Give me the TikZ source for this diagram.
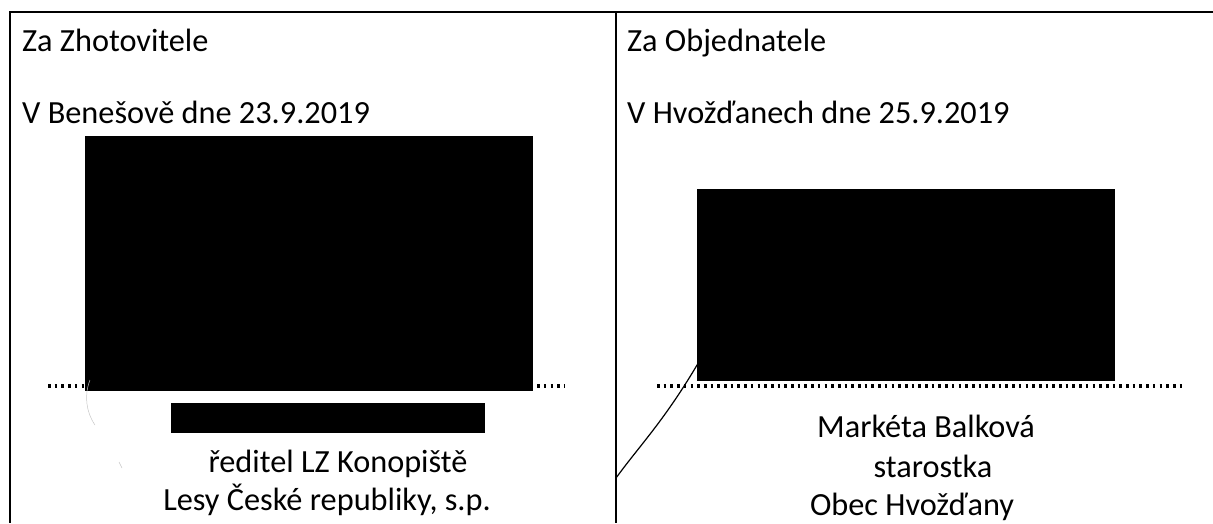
\documentclass[tikz,border=0pt]{standalone}
\usepackage{fontspec}
\setmainfont{Carlito}
\begin{document}
\begin{tikzpicture}[x=1pt,y=-1pt,
  txt/.style={inner sep=0pt,font=\fontsize{32.3}{38}\selectfont},
  rule/.style={line width=1.3pt,black},
  redact/.style={fill=black,draw=none},
  dots/.style={line width=3.2pt,dash pattern=on 2.6pt off 4.1pt,black},
  faint/.style={line width=0.5pt,gray!45}]
\useasboundingbox (0,0) rectangle (1213,523);
% table rules
\coordinate (tl) at (10,12);
\coordinate (tr) at (1213,12);
\coordinate (bl) at (10,523);
\coordinate (tm) at (616,12);
\coordinate (bm) at (616,523);
\draw[rule] (tr) -- (tl) -- (bl);
\draw[rule] (tm) -- (bm);
% left column
\node[txt,anchor=base west] (za1) at (22,51) {Za Zhotovitele};
\node[txt,anchor=base west] (d1) at (22,123) {V Benešově dne 23.9.2019};
\coordinate (dl1) at (48,386);
\coordinate (dl2) at (565,386);
\draw[dots] (dl1) -- (dl2);
\fill[redact] (85,136) rectangle (533,391);
\fill[redact] (171,403) rectangle (485,433);
\node[txt,anchor=base] (f1) at (338,472) {ředitel LZ Konopiště};
\node[txt,anchor=base] (f2) at (327,510) {Lesy České republiky, s.p.};
\draw[faint] (90,380) .. controls (84,395) and (86,412) .. (95,425);
\draw[faint] (119,462) -- (122,468);
% right column
\node[txt,anchor=base west] (za2) at (627,51) {Za Objednatele};
\node[txt,anchor=base west] (d2) at (627,123) {V Hvožďanech dne 25.9.2019};
\coordinate (dr1) at (657,386);
\coordinate (dr2) at (1182,386);
\draw[dots] (dr1) -- (dr2);
\coordinate (s1) at (616,478);
\coordinate (s2) at (700,360);
\draw[line width=1.2pt] (s1) .. controls (640,445) and (665,420) .. (s2);
\fill[redact] (697,189) rectangle (1115,381);
\node[txt,anchor=base] (g1) at (926,437) {Markéta Balková};
\node[txt,anchor=base] (g2) at (933,477) {starostka};
\node[txt,anchor=base] (g3) at (912,515) {Obec Hvožďany};
\end{tikzpicture}
\end{document}
